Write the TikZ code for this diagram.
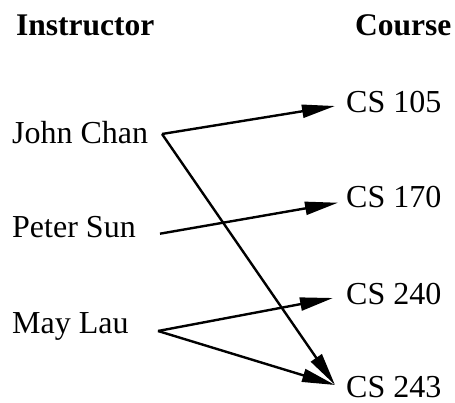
\documentclass[tikz,border=0pt]{standalone}
\usepackage{fontspec}
\setmainfont{Liberation Serif}
\usetikzlibrary{arrows.meta}
\tikzset{
  lbl/.style={inner sep=0pt, anchor=base west, font=\fontsize{32}{38}\selectfont},
  hdr/.style={inner sep=0pt, anchor=base west, font=\fontsize{31.5}{38}\selectfont\bfseries},
  link/.style={line width=2.4pt, -{Triangle[length=33pt,width=13pt]}}
}
\begin{document}
\begin{tikzpicture}[x=1pt,y=-1pt]
\useasboundingbox (0,0) rectangle (455,403);
% headings
\node[hdr] (hinst) at (16,36) {Instructor};
\node[hdr] (hcourse) at (355,36) {Course};
% instructors
\node[lbl] (jc) at (12,143.3) {John Chan};
\node[lbl] (ps) at (12,238) {Peter Sun};
\node[lbl] (ml) at (12,333) {May Lau};
% courses
\node[lbl] (c105) at (346,112.7) {CS 105};
\node[lbl] (c170) at (346,207.3) {CS 170};
\node[lbl] (c240) at (346,305) {CS 240};
\node[lbl] (c243) at (346,397.5) {CS 243};
% connector ends
\coordinate (jco) at (162,134);
\coordinate (pso) at (160,233.7);
\coordinate (mlo) at (158,331);
\coordinate (c105i) at (335,106);
\coordinate (c170i) at (338,202.7);
\coordinate (c240i) at (333,298);
\coordinate (c243i) at (335,385);
% connectors
\draw[link] (jco) -- (c105i);
\draw[link] (jco) -- (c243i);
\draw[link] (pso) -- (c170i);
\draw[link] (mlo) -- (c240i);
\draw[link] (mlo) -- (c243i);
\end{tikzpicture}
\end{document}
